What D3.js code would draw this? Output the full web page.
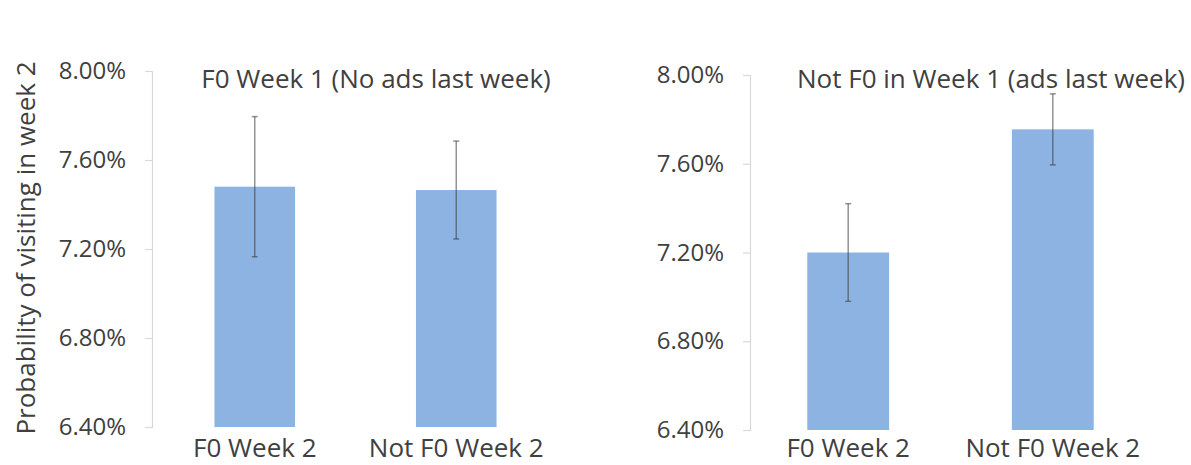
<!DOCTYPE html>
<html>
<head>
<meta charset="utf-8">
<script src="https://cdn.jsdelivr.net/npm/d3@7"></script>
<style>
	body { margin: 0; background: #fff; }
	text { font-family: "Open Sans", sans-serif; fill: #404040; }
</style>
</head>
<body>
<svg id="chart" width="1191" height="465"></svg>
<script>
var categories = ["F0 Week 2", "Not F0 Week 2"];
var panelTitles = ["F0 Week 1 (No ads last week)", "Not F0 in Week 1 (ads last week)"];
var leftValues = [7.48, 7.465];
var leftErrors = [0.315, 0.22];
var rightValues = [7.20, 7.755];
var rightErrors = [0.22, 0.16];
var tickValues = [6.4, 6.8, 7.2, 7.6, 8.0];
var yTitle = "Probability of visiting in week 2";

var svg = d3.select("#chart");

function drawPanel(cfg) {
	var y = d3.scaleLinear().domain([6.4, 8.0]).range([cfg.bottom, cfg.top]);
	var x = d3.scaleBand().domain(categories).range([cfg.axisX, cfg.right])
		.paddingInner(0.6).paddingOuter(cfg.outer);

	var g = svg.append("g");

	var axis = g.append("g")
		.attr("transform", "translate(" + cfg.axisX + ",0)")
		.call(d3.axisLeft(y).tickValues(tickValues).tickSize(7).tickPadding(19)
			.tickFormat(function(d) { return d3.format(".2f")(d) + "%"; }));
	axis.select(".domain").attr("stroke", "#d9d9d9").attr("stroke-width", 1.2);
	axis.selectAll(".tick line").attr("stroke", "#d9d9d9").attr("stroke-width", 1.2);
	axis.selectAll(".tick text").attr("font-size", 24).style("fill", "#404040")
		.attr("font-family", "'Open Sans', sans-serif");

	g.selectAll("rect.bar").data(cfg.values).enter().append("rect")
		.attr("class", "bar")
		.attr("x", function(d, i) { return x(categories[i]); })
		.attr("width", x.bandwidth())
		.attr("y", function(d) { return y(d); })
		.attr("height", function(d) { return cfg.bottom - y(d); })
		.attr("fill", "#8db3e2");

	var err = g.selectAll("g.err").data(cfg.values).enter().append("g")
		.attr("class", "err")
		.attr("stroke", "#3a3a3a")
		.attr("stroke-opacity", 0.55)
		.attr("stroke-width", 1.5);
	err.append("line")
		.attr("x1", function(d, i) { return x(categories[i]) + x.bandwidth() / 2; })
		.attr("x2", function(d, i) { return x(categories[i]) + x.bandwidth() / 2; })
		.attr("y1", function(d, i) { return y(d + cfg.errors[i]); })
		.attr("y2", function(d, i) { return y(d - cfg.errors[i]); });
	[1, -1].forEach(function(s) {
		err.append("line")
			.attr("x1", function(d, i) { return x(categories[i]) + x.bandwidth() / 2 - 3; })
			.attr("x2", function(d, i) { return x(categories[i]) + x.bandwidth() / 2 + 3; })
			.attr("y1", function(d, i) { return y(d + s * cfg.errors[i]); })
			.attr("y2", function(d, i) { return y(d + s * cfg.errors[i]); });
	});

	g.selectAll("text.cat").data(categories).enter().append("text")
		.attr("class", "cat")
		.attr("x", function(d) { return x(d) + x.bandwidth() / 2; })
		.attr("y", 457)
		.attr("text-anchor", "middle")
		.attr("font-size", 26)
		.text(function(d) { return d; });

	g.append("text")
		.attr("x", cfg.titleX)
		.attr("y", 88)
		.attr("text-anchor", "middle")
		.attr("font-size", 26)
		.text(cfg.title);
}

drawPanel({axisX: 152, right: 559, outer: 0.31, top: 71, bottom: 427,
	values: leftValues, errors: leftErrors, title: panelTitles[0], titleX: 376});
drawPanel({axisX: 750, right: 1151, outer: 0.28, top: 75, bottom: 430,
	values: rightValues, errors: rightErrors, title: panelTitles[1], titleX: 991});

svg.append("text")
	.attr("transform", "translate(35,248) rotate(-90)")
	.attr("text-anchor", "middle")
	.attr("font-size", 26)
	.text(yTitle);
</script>
</body>
</html>
